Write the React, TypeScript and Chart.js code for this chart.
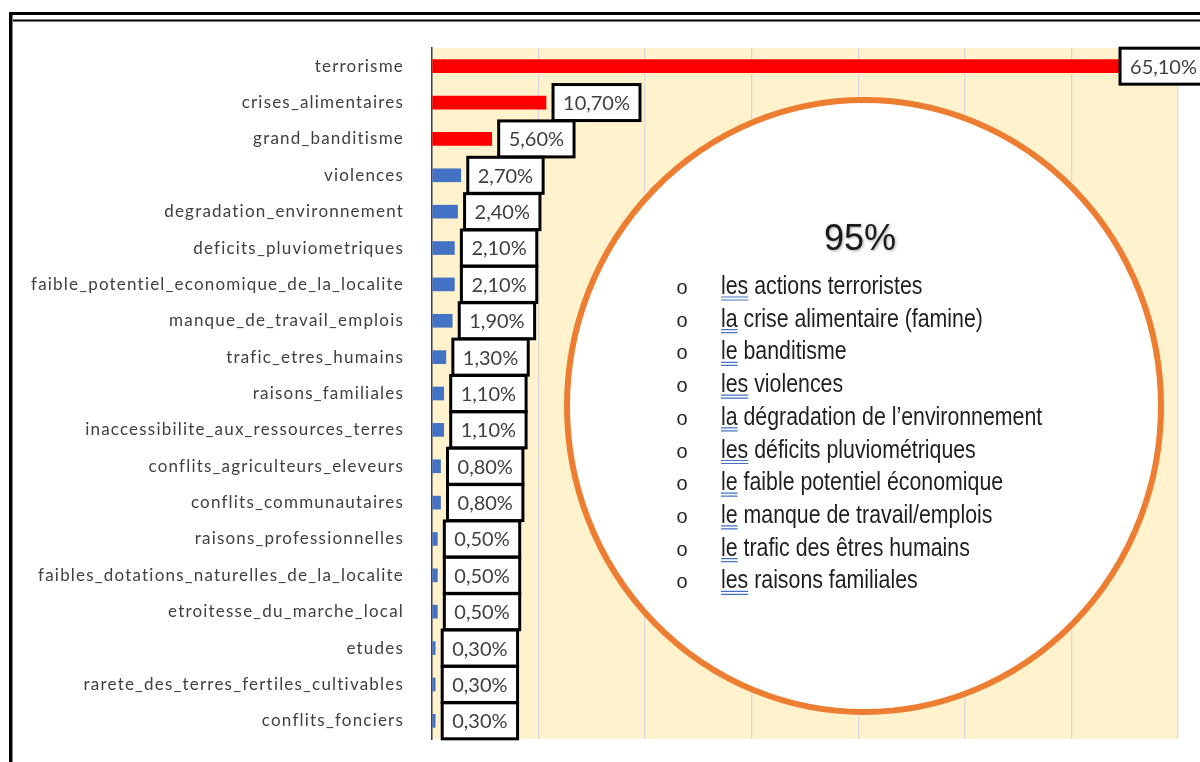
import { useEffect, useRef } from 'react';
import { Chart, registerables } from 'chart.js';

Chart.register(...registerables);

const W = 1200;
const H = 762;

// Motifs de départ et leur part (%)
const categories = [
  'terrorisme',
  'crises_alimentaires',
  'grand_banditisme',
  'violences',
  'degradation_environnement',
  'deficits_pluviometriques',
  'faible_potentiel_economique_de_la_localite',
  'manque_de_travail_emplois',
  'trafic_etres_humains',
  'raisons_familiales',
  'inaccessibilite_aux_ressources_terres',
  'conflits_agriculteurs_eleveurs',
  'conflits_communautaires',
  'raisons_professionnelles',
  'faibles_dotations_naturelles_de_la_localite',
  'etroitesse_du_marche_local',
  'etudes',
  'rarete_des_terres_fertiles_cultivables',
  'conflits_fonciers',
];
const shares = [65.1, 10.7, 5.6, 2.7, 2.4, 2.1, 2.1, 1.9, 1.3, 1.1, 1.1, 0.8, 0.8, 0.5, 0.5, 0.5, 0.3, 0.3, 0.3];

const xMax = 70;
const xStep = 10;
const highlightAbove = 5;

// Encadré de synthèse
const summaryHeading = '95%';
const summaryArticles = ['les', 'la', 'le', 'les', 'la', 'les', 'le', 'le', 'le', 'les'];
const summaryPhrases = [
  'actions terroristes',
  'crise alimentaire (famine)',
  'banditisme',
  'violences',
  'dégradation de l’environnement',
  'déficits pluviométriques',
  'faible potentiel économique',
  'manque de travail/emplois',
  'trafic des êtres humains',
  'raisons familiales',
];

const RED = '#FF0000';
const BLUE = '#4472C4';
const PLOT_BG = '#FFF2CC';
const GRID = '#D9D9D9';
const TEXT = '#404040';
const ORANGE = '#ED7D31';

const fmtPct = (v: number) => v.toFixed(2).replace('.', ',') + '%';

const plotBackground = {
  id: 'plotBackground',
  beforeDraw(chart: any) {
    const { ctx, chartArea: a } = chart;
    ctx.save();
    ctx.fillStyle = PLOT_BG;
    ctx.fillRect(a.left, a.top, a.right - a.left, a.bottom - a.top);
    ctx.restore();
    // wider tracking for the category labels drawn with the axes
    (ctx as any).letterSpacing = '1.2px';
  },
  beforeDatasetsDraw(chart: any) {
    (chart.ctx as any).letterSpacing = '0px';
  },
};

const summaryBubble = {
  id: 'summaryBubble',
  afterDatasetsDraw(chart: any) {
    const { ctx } = chart;
    ctx.save();
    ctx.beginPath();
    ctx.ellipse(864, 406, 297, 306, 0, 0, Math.PI * 2);
    ctx.fillStyle = '#FFFFFF';
    ctx.fill();
    ctx.lineWidth = 6;
    ctx.strokeStyle = ORANGE;
    ctx.stroke();

    ctx.save();
    ctx.font = '36px "Liberation Sans", Arial, sans-serif';
    ctx.textAlign = 'center';
    ctx.textBaseline = 'alphabetic';
    ctx.shadowColor = 'rgba(0,0,0,0.35)';
    ctx.shadowBlur = 3;
    ctx.shadowOffsetX = 1;
    ctx.shadowOffsetY = 1;
    ctx.fillStyle = '#1A1A1A';
    ctx.fillText(summaryHeading, 860, 250);
    ctx.restore();

    summaryPhrases.forEach((phrase, i) => {
      const y = 294 + i * 32.7;
      ctx.save();
      ctx.fillStyle = '#262626';
      ctx.font = '20px "Liberation Sans", Arial, sans-serif';
      ctx.textAlign = 'center';
      ctx.textBaseline = 'alphabetic';
      ctx.fillText('o', 682, y);
      ctx.restore();

      ctx.save();
      ctx.translate(721, y);
      ctx.scale(0.82, 1);
      ctx.font = '26px "Liberation Sans", Arial, sans-serif';
      ctx.textAlign = 'left';
      ctx.textBaseline = 'alphabetic';
      ctx.fillStyle = '#1F1F1F';
      const art = summaryArticles[i];
      ctx.fillText(art, 0, 0);
      const aw = ctx.measureText(art).width;
      ctx.fillText(' ' + phrase, aw, 0);
      ctx.strokeStyle = BLUE;
      ctx.lineWidth = 1.2;
      ctx.beginPath();
      ctx.moveTo(0, 3);
      ctx.lineTo(aw, 3);
      ctx.moveTo(0, 6);
      ctx.lineTo(aw, 6);
      ctx.stroke();
      ctx.restore();
    });
    ctx.restore();
  },
};

const valueBoxes = {
  id: 'valueBoxes',
  afterDatasetsDraw(chart: any) {
    const { ctx } = chart;
    const meta = chart.getDatasetMeta(0);
    ctx.save();
    ctx.font = '20px Lato, "Open Sans", sans-serif';
    ctx.textBaseline = 'middle';
    ctx.textAlign = 'left';
    meta.data.forEach((bar: any, i: number) => {
      const label = fmtPct(shares[i]);
      const tw = ctx.measureText(label).width;
      const bw = tw + 20;
      const bh = 36;
      let left = bar.x + 7;
      if (left + bw > W + 7) left = W + 7 - bw;
      const top = bar.y - bh / 2;
      ctx.fillStyle = '#FFFFFF';
      ctx.fillRect(left, top, bw, bh);
      ctx.lineWidth = 3;
      ctx.strokeStyle = '#000000';
      ctx.strokeRect(left, top, bw, bh);
      ctx.fillStyle = TEXT;
      ctx.fillText(label, left + 10, bar.y + 1);
    });
    ctx.restore();
  },
};

const frame = {
  id: 'frame',
  afterDraw(chart: any) {
    const { ctx } = chart;
    ctx.save();
    ctx.fillStyle = '#000000';
    ctx.fillRect(9, 12, W - 9, 3);
    ctx.fillRect(13, 19.5, W - 13, 2);
    ctx.fillRect(9, 12, 3.5, H - 12);
    ctx.restore();
  },
};

export default function App() {
  const canvasRef = useRef<HTMLCanvasElement | null>(null);

  useEffect(() => {
    if (!canvasRef.current) return;
    const chart = new Chart(canvasRef.current, {
      type: 'bar',
      data: {
        labels: categories,
        datasets: [
          {
            data: shares,
            backgroundColor: shares.map((v) => (v > highlightAbove ? RED : BLUE)),
            barThickness: 13,
            borderWidth: 0,
          },
        ],
      },
      options: {
        indexAxis: 'y',
        responsive: false,
        maintainAspectRatio: false,
        animation: false,
        devicePixelRatio: 1,
        layout: { padding: { top: 48, right: 22, bottom: 23, left: 0 } },
        plugins: {
          legend: { display: false },
          tooltip: { enabled: false },
          title: { display: false },
        },
        scales: {
          x: {
            min: 0,
            max: xMax,
            ticks: { display: false, stepSize: xStep },
            grid: { color: GRID, lineWidth: 1.3, drawTicks: false },
            border: { display: false },
            afterFit: (s: any) => {
              s.height = 0;
            },
          },
          y: {
            ticks: {
              color: TEXT,
              font: { family: 'Lato, "Open Sans", sans-serif', size: 17 },
              padding: 20,
              autoSkip: false,
            },
            grid: { display: false },
            border: { display: true, color: '#404040', width: 1.5 },
            afterFit: (s: any) => {
              s.width = 432;
              s.paddingTop = 0;
              s.paddingBottom = 0;
            },
          },
        },
      },
      plugins: [plotBackground, summaryBubble, valueBoxes, frame],
    });
    return () => chart.destroy();
  }, []);

  return (
    <div style={{ position: 'fixed', left: 0, top: 0, width: W, height: H, background: '#FFFFFF' }}>
      <canvas ref={canvasRef} width={W} height={H} style={{ display: 'block' }} />
    </div>
  );
}
